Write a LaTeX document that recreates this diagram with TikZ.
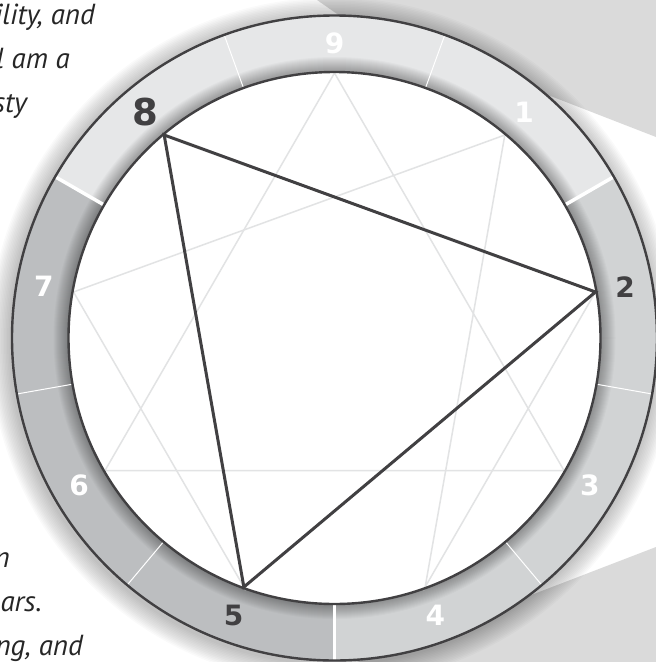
\documentclass[tikz,border=0pt]{standalone}
\usepackage{fontspec}
\setmainfont{Open Sans}
\newfontfamily\numfont{DejaVu Sans}
\newfontfamily\bodyfont{PT Sans}
\usetikzlibrary{calc}
\definecolor{ink}{HTML}{414042}
\definecolor{segA}{HTML}{E6E7E8}
\definecolor{segB}{HTML}{D1D3D4}
\definecolor{segC}{HTML}{BCBEC0}
\definecolor{faint}{HTML}{E2E3E4}
\definecolor{stone}{HTML}{DADADA}
\definecolor{txt}{HTML}{262626}
\begin{document}
\begin{tikzpicture}[x=1pt,y=-1pt,
  bodytext/.style={anchor=base east,font=\bodyfont\fontsize{29}{34}\selectfont\itshape,text=txt,inner sep=0pt},
  numlbl/.style={font=\numfont\bfseries\fontsize{28}{32}\selectfont,inner sep=0pt},
  biglbl/.style={font=\numfont\bfseries\fontsize{37}{42}\selectfont,inner sep=0pt},
  faintline/.style={draw=faint,line width=1.5pt},
  darkline/.style={draw=ink,line width=3pt,line join=miter},
  rimline/.style={draw=ink,line width=2.4pt},
  thinsep/.style={draw=white,line width=1pt},
  thicksep/.style={draw=white,line width=3.5pt}]
\useasboundingbox (0,0) rectangle (656,662);
\clip (0,0) rectangle (656,662);
\coordinate (c) at (334.5,338);
\coordinate (cs) at (332.5,341);
% background stone areas
\fill[stone] (317,0) -- (656,0) -- (656,137) -- (553,97) -- (340,16) -- cycle;
\fill[stone] (526,597) -- (656,547) -- (656,662) -- (357,662) -- cycle;
% text fragments
\node[bodytext] (t1) at (95,24) {ility, and};
\node[bodytext] (t2) at (70,68) {l am a};
\node[bodytext] (t3) at (27,112) {sty};
\node[bodytext] (t4) at (10,567) {n};
\node[bodytext] (t5) at (42,611) {ars.};
\node[bodytext] (t6) at (83,655) {ng, and};
% outer shadow
\foreach \k in {1,...,14} \fill[black,opacity=0.02] (cs) circle[radius={322.5+1.5*\k}];
% ring sectors
\fill[segA] (c) -- ($(c)+(-150:322.5)$) arc[start angle=-150,end angle=-30,radius=322.5] -- cycle;
\fill[segB] (c) -- ($(c)+(-30:322.5)$) arc[start angle=-30,end angle=90,radius=322.5] -- cycle;
\fill[segC] (c) -- ($(c)+(90:322.5)$) arc[start angle=90,end angle=210,radius=322.5] -- cycle;
% inner shading on ring
\foreach \k in {2,...,15} \fill[black,opacity=0.025,even odd rule] (c) circle[radius={266+\k}] (c) circle[radius=266];
% sector separators
\foreach \a in {20,100,140,220,260,340} \draw[thinsep] ($(c)+(\a-90:266)$) -- ($(c)+(\a-90:322.5)$);
\foreach \a in {60,180,300} \draw[thicksep] ($(c)+(\a-90:266)$) -- ($(c)+(\a-90:322.5)$);
% inner disc
\fill[white] (c) circle[radius=266];
% enneagram points
\foreach \n in {1,...,9} \coordinate (p\n) at ($(c)+(\n*40-90:265)$);
\draw[faintline] (p1) -- (p4) -- (p2) -- (p8) -- (p5) -- (p7) -- cycle;
\draw[faintline] (p3) -- (p6) -- (p9) -- cycle;
\draw[darkline] (p2) -- (p5) -- (p8) -- cycle;
% rims
\draw[rimline] (c) circle[radius=266];
\draw[rimline] (c) circle[radius=322.5];
% labels
\foreach \n in {1,3,4,6,7,9} \node[numlbl,text=white] (n\n) at ($(c)+(\n*40-90:295)$) {\n};
\node[numlbl,text=ink] (n2) at ($(c)+(80-90:295)$) {2};
\node[numlbl,text=ink] (n5) at ($(c)+(200-90:295)$) {5};
\node[biglbl,text=ink] (n8) at ($(c)+(320-90:295)$) {8};
\end{tikzpicture}
\end{document}
